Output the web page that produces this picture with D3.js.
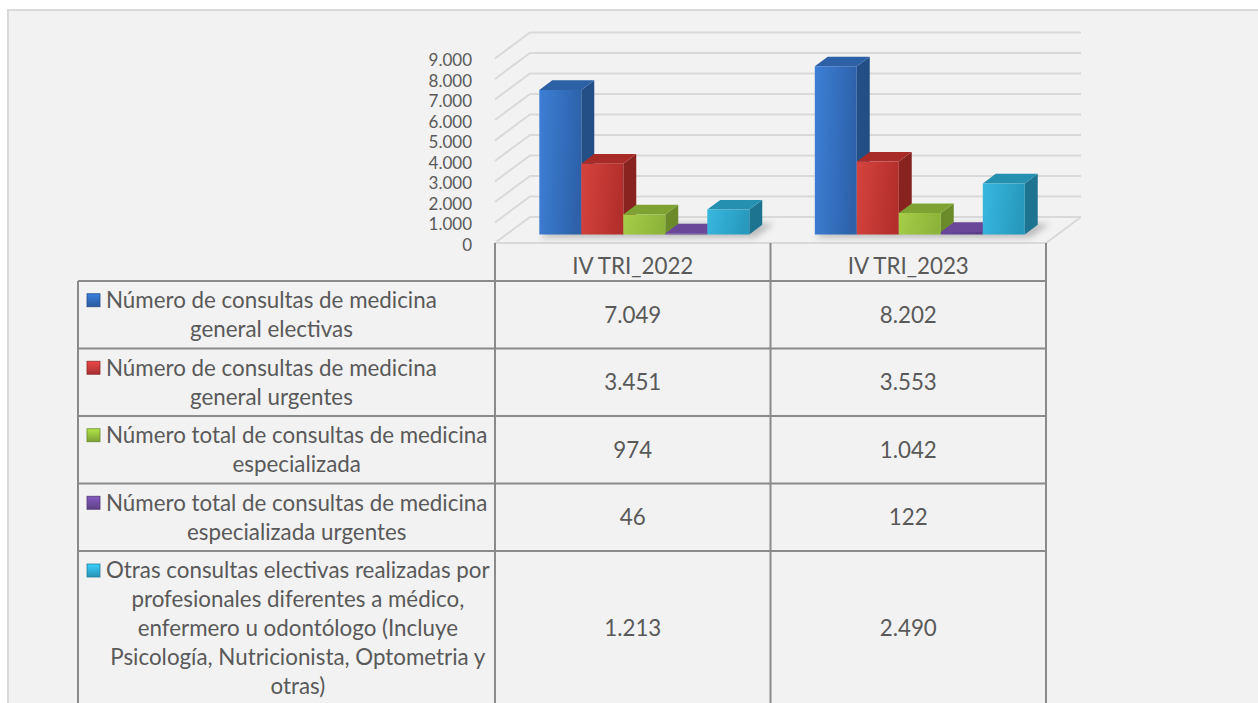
<!DOCTYPE html>
<html><head><meta charset="utf-8">
<script src="https://cdn.jsdelivr.net/npm/d3@7"></script>
<style>
html,body{margin:0;padding:0;background:#ffffff;}
svg{display:block;}
text{font-family:Lato,"Open Sans",sans-serif;fill:#595959;}
</style></head>
<body><svg id="c" width="1258" height="703"></svg>
<script>
const categories = ["IV TRI_2022", "IV TRI_2023"];
const seriesNames = [
  "Número de consultas de medicina general electivas",
  "Número de consultas de medicina general urgentes",
  "Número total de consultas de medicina especializada",
  "Número total de consultas de medicina especializada urgentes",
  "Otras consultas electivas realizadas por profesionales diferentes a médico, enfermero u odontólogo (Incluye Psicología, Nutricionista, Optometria y otras)"
];
const seriesLines = [
  ["Número de consultas de medicina", "general electivas"],
  ["Número de consultas de medicina", "general urgentes"],
  ["Número total de consultas de medicina", "especializada"],
  ["Número total de consultas de medicina", "especializada urgentes"],
  ["Otras consultas electivas realizadas por", "profesionales diferentes a médico,", "enfermero u odontólogo (Incluye", "Psicología, Nutricionista, Optometria y", "otras)"]
];
const values2022 = [7049, 3451, 974, 46, 1213];
const values2023 = [8202, 3553, 1042, 122, 2490];
const yTicks = [0, 1000, 2000, 3000, 4000, 5000, 6000, 7000, 8000, 9000];
const seriesColors = [
  {front:["#3d7fd6","#2d62aa"], side:"#234e86", top:"#2d61a6", key:"#2f67b5"},
  {front:["#d6433e","#b32f2b"], side:"#89231f", top:"#a92b27", key:"#c0393a"},
  {front:["#a6ce47","#8db43a"], side:"#6b8b2a", top:"#7fa333", key:"#8fb93c"},
  {front:["#6a479a","#5a3b86"], side:"#452c69", top:"#6a4799", key:"#6c4a9c"},
  {front:["#38b8df","#2799bd"], side:"#1c7490", top:"#2590b0", key:"#2ea8cf"}
];

const byCat = [values2022, values2023];
const fmt = d3.formatLocale({decimal:",", thousands:".", grouping:[3], currency:["",""]}).format(",d");

const svg = d3.select("#c");
const W = 1258, H = 703;

svg.append("rect").attr("x", 8).attr("y", 10).attr("width", W + 20).attr("height", H + 20)
  .attr("fill", "#f2f2f2").attr("stroke", "#d9d9d9").attr("stroke-width", 2);

const x0 = 495, x1 = 1046;
const DX = 35, DY = 26;
const yF = d3.scaleLinear().domain([0, 9000]).range([243, 58.5]);
const xc = d3.scaleBand().domain(categories).range([x0, x1]).paddingInner(0).paddingOuter(0);
const xs = d3.scaleBand().domain(d3.range(seriesNames.length)).range([0, xc.bandwidth()]).paddingInner(0).paddingOuter(0.78);
const P = (x, v, d) => [x + d * DX, yF(v) - d * DY];

const defs = svg.append("defs");
seriesColors.forEach((c, i) => {
  const g = defs.append("linearGradient").attr("id", "gf" + i).attr("x1", 0).attr("x2", 1).attr("y1", 0).attr("y2", 0.15);
  g.append("stop").attr("offset", 0).attr("stop-color", c.front[0]);
  g.append("stop").attr("offset", 1).attr("stop-color", c.front[1]);
  const k = defs.append("linearGradient").attr("id", "gk" + i).attr("x1", 0).attr("x2", 0).attr("y1", 0).attr("y2", 1);
  k.append("stop").attr("offset", 0).attr("stop-color", d3.color(c.key).brighter(0.6));
  k.append("stop").attr("offset", 1).attr("stop-color", d3.color(c.key).darker(0.4));
});
defs.append("filter").attr("id", "blur").attr("x", -0.2).attr("y", -1).attr("width", 1.4).attr("height", 3)
  .append("feGaussianBlur").attr("stdDeviation", 3);

const grid = svg.append("g").attr("stroke", "#d9d9d9").attr("stroke-width", 2).attr("fill", "none");
yTicks.forEach(t => {
  const a = P(x0, t, 0), b = P(x0, t, 1), c = P(x1, t, 1);
  grid.append("path").attr("d", `M${a}L${b}L${c}`);
});
grid.append("path").attr("d", `M${P(x0,0,0)}L${P(x1,0,0)}L${P(x1,0,1)}`);

const yAxis = d3.axisLeft(yF).tickValues(yTicks).tickFormat(d => fmt(d)).tickSize(0).tickPadding(0);
const ya = svg.append("g").attr("transform", "translate(472,2)").call(yAxis);
ya.select(".domain").remove();
ya.selectAll("text").attr("fill", "#595959").style("font-family", "Lato").attr("font-size", 17);

const d0 = 0.33, d1 = 0.70;
const bars = svg.append("g");
categories.forEach((cat, ci) => {
  const gx0 = xc(cat) + xs(0), gx1 = xc(cat) + xs(seriesNames.length - 1) + xs.bandwidth();
  const s1 = P(gx0 + 4, 0, d0 - 0.12), s2 = P(gx1 + 10, 0, d0 - 0.12), s3 = P(gx1 + 10, 0, d1 + 0.05), s4 = P(gx0 + 4, 0, d1 + 0.05);
  bars.append("path").attr("d", `M${s1}L${s2}L${s3}L${s4}Z`).attr("fill", "#7a7a7a").attr("opacity", 0.45).attr("filter", "url(#blur)");
  byCat[ci].forEach((v, si) => {
    const bx = xc(cat) + xs(si), bw = xs.bandwidth();
    const c = seriesColors[si];
    const fA = P(bx, 0, d0), fB = P(bx + bw, 0, d0), fC = P(bx + bw, v, d0), fD = P(bx, v, d0);
    const bC = P(bx + bw, v, d1), bD = P(bx, v, d1), bB = P(bx + bw, 0, d1);
    const g = bars.append("g");
    g.append("path").attr("d", `M${fB}L${bB}L${bC}L${fC}Z`).attr("fill", c.side);
    g.append("path").attr("d", `M${fD}L${fC}L${bC}L${bD}Z`).attr("fill", c.top);
    g.append("path").attr("d", `M${fA}L${fB}L${fC}L${fD}Z`).attr("fill", `url(#gf${si})`);
  });
});

const fontProbe = svg.append("text").attr("font-size", 20).text(seriesLines[0][0]);
const probeW = fontProbe.node().getComputedTextLength();
fontProbe.remove();
const FS = 20 * 331 / probeW;

const tableLine = "#8a8a8a";
const rowTops = [281, 348.5, 416, 483.5, 551];
const rowBottoms = [348.5, 416, 483.5, 551, 712];
const tl = 78, tr = x1;
const tbl = svg.append("g").attr("stroke", tableLine).attr("stroke-width", 2).attr("fill", "none");
[x0, xc(categories[1]), x1].forEach(x => tbl.append("line").attr("x1", x).attr("x2", x).attr("y1", 243).attr("y2", H + 10));
tbl.append("line").attr("x1", tl).attr("x2", tl).attr("y1", 281).attr("y2", H + 10);
rowTops.forEach(y => tbl.append("line").attr("x1", tl).attr("x2", tr).attr("y1", y).attr("y2", y));

svg.append("g").selectAll("text").data(categories).join("text")
  .attr("x", d => xc(d) + xc.bandwidth() / 2).attr("y", 266).attr("dy", "0.35em")
  .attr("text-anchor", "middle").attr("font-size", FS).text(d => d);

const LH = 29;
seriesLines.forEach((lines, si) => {
  const top = rowTops[si], bot = rowBottoms[si];
  const mid = (si === 4) ? 628.5 : (top + bot) / 2;
  const g = svg.append("g");
  const texts = lines.map((ln, li) => g.append("text").attr("font-size", FS).attr("text-anchor", "middle")
    .attr("dy", "0.35em").attr("y", mid + (li - (lines.length - 1) / 2) * LH).text(ln));
  const maxW = d3.max(texts, t => t.node().getComputedTextLength());
  const tx0 = 106;
  texts.forEach(t => t.attr("x", tx0 + maxW / 2));
  const ky = mid - (lines.length - 1) / 2 * LH;
  g.append("rect").attr("x", 87).attr("y", ky - 6.5).attr("width", 13).attr("height", 13)
    .attr("fill", `url(#gk${si})`).attr("stroke", d3.color(seriesColors[si].key).darker(0.8)).attr("stroke-width", 0.8);
  categories.forEach((cat, ci) => {
    g.append("text").attr("font-size", FS).attr("text-anchor", "middle").attr("dy", "0.35em")
      .attr("x", xc(cat) + xc.bandwidth() / 2).attr("y", mid).text(fmt(byCat[ci][si]));
  });
});
</script></body></html>
